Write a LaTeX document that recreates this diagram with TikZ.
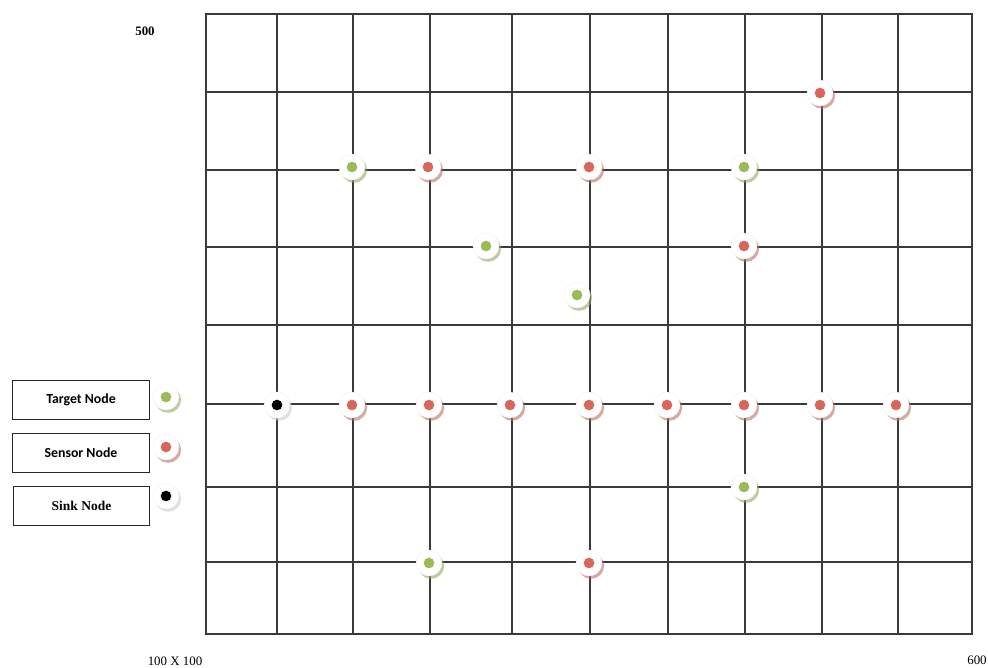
\documentclass[tikz,border=0pt]{standalone}
\usepackage{fontspec}
\setmainfont{Liberation Serif}
\newfontfamily\calfont{Carlito}
\usepackage{tikz}
\usetikzlibrary{positioning, shadows}
\definecolor{target}{HTML}{9BBB59}
\definecolor{sensor}{HTML}{D9665B}
\definecolor{sink}{HTML}{000000}
\definecolor{gridline}{HTML}{3A3A3A}

\begin{document}
\begin{tikzpicture}[x=0.03cm, y=-0.03cm,
        every node/.style={font=\fontsize{11}{13}\selectfont},
        gridln/.style={draw=gridline, line width=0.9pt},
        legbox/.style={rectangle, draw=black!85, line width=0.8pt,
          minimum width=4.1cm, minimum height=1.17cm, align=center},
        mote/.style 2 args={circle, fill=white, draw=black!6, line width=0.3pt,
          minimum size=0.78cm, inner sep=0pt,
          drop shadow={shadow xshift=1.8pt, shadow yshift=-2.4pt, fill=#2, opacity=0.6},
          path picture={\fill[#1] (path picture bounding box.center) circle (0.16cm);}},
        tgt/.style={mote={target}{target!70!gray}},
        sns/.style={mote={sensor}{sensor!65!gray}},
        snk/.style={mote={sink}{black!20}}]

      \useasboundingbox (0,0) rectangle (988,667);

      % field grid
      \foreach \gx in {277,353,430,512,590,668,745,822,898}
        \draw[gridln] (\gx,14) -- (\gx,634);
      \foreach \gy in {92,170,247,325,404,487,562}
        \draw[gridln] (206,\gy) -- (972,\gy);
      \draw[gridln] (206,14) rectangle (972,634);

      \node (ymax) at (145,31) {\bfseries 500};
      \node (area) at (175,661) {100 X 100};
      \node (xmax) at (977,660) {600};

      % legend
      \node[legbox] (legT) at (81,400) {\calfont\fontsize{11.8}{13}\selectfont\bfseries Target Node};
      \node[legbox] (legS) at (81,452.5) {\calfont\fontsize{11.8}{13}\selectfont\bfseries Sensor Node};
      \node[legbox] (legK) at (81.5,505.5) {\fontsize{11.5}{13}\selectfont\bfseries Sink Node};
      \node[tgt] (icoT) at (166,397) {};
      \node[sns] (icoS) at (166,447) {};
      \node[snk] (icoK) at (166,496) {};

      % target nodes
      \node[tgt] (t1) at (352,167) {};
      \node[tgt] (t2) at (744,167) {};
      \node[tgt] (t3) at (486,246) {};
      \node[tgt] (t4) at (577,295) {};
      \node[tgt] (t5) at (744,487) {};
      \node[tgt] (t6) at (429,563) {};

      % sensor nodes
      \node[sns] (s1) at (820,93) {};
      \node[sns] (s2) at (428,167) {};
      \node[sns] (s3) at (589,167) {};
      \node[sns] (s4) at (744,246) {};
      \node[sns] (s5) at (589,563) {};
      \foreach \sx [count=\si from 6] in {352,429,510,589,667,744,820,896}
        \node[sns] (s\si) at (\sx,405) {};

      % sink
      \node[snk] (sink) at (277,405) {};
    \end{tikzpicture}
\end{document}
